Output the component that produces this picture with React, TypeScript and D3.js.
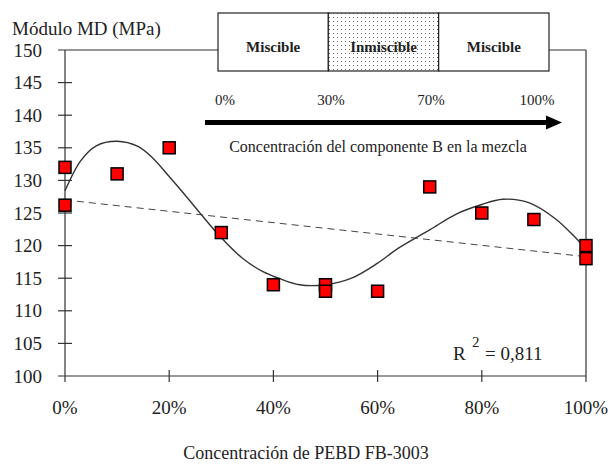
import React from "react";
import * as d3 from "d3";

const pointX = [0, 0, 0.1, 0.2, 0.3, 0.4, 0.5, 0.5, 0.6, 0.7, 0.8, 0.9, 1, 1];
const pointY = [132, 126.2, 131, 135, 122, 114, 114, 113, 113, 129, 125, 124, 120, 118];

const curveX = [0, 0.03, 0.06, 0.1, 0.14, 0.17, 0.2, 0.23, 0.26, 0.3, 0.34, 0.38, 0.41, 0.45, 0.5, 0.55, 0.6, 0.64, 0.7, 0.75, 0.8, 0.84, 0.89, 0.94, 0.98, 1];
const curveY = [128.4, 133, 135.3, 136, 135.2, 133.3, 130.6, 127.8, 124.9, 121.2, 118.1, 116, 115, 114, 114, 115, 117.3, 119.6, 122.4, 124.8, 126.3, 127.1, 126.6, 124.2, 121.2, 119.5];

const trendX = [0, 1];
const trendY = [127, 118.3];

const yTicks = [100, 105, 110, 115, 120, 125, 130, 135, 140, 145, 150];
const xTicks = [0, 0.2, 0.4, 0.6, 0.8, 1];
const xTickLabels = ["0%", "20%", "40%", "60%", "80%", "100%"];

const boxLabels = ["Miscible", "Inmiscible", "Miscible"];
const boxBounds = [0, 1 / 3, 2 / 3, 1];
const topPctLabels = ["0%", "30%", "70%", "100%"];

const FONT = "'Liberation Serif', 'Times New Roman', serif";

export default function App() {
  const W = 608, H = 464;
  const x = d3.scaleLinear().domain([0, 1]).range([65, 586]);
  const y = d3.scaleLinear().domain([100, 150]).range([376, 50]);
  const axisColor = "#333";

  const curvePts: [number, number][] = curveX.map((v, i) => [x(v), y(curveY[i])]);
  const curvePath = d3.line().curve(d3.curveCatmullRom.alpha(0.5))(curvePts) || "";
  const trendPath = d3.line()(trendX.map((v, i) => [x(v), y(trendY[i])] as [number, number])) || "";

  // inset box
  const bx = d3.scaleLinear().domain([0, 1]).range([218, 549]);
  const boxTop = 13, boxBot = 71;
  const pctScale = d3.scaleLinear().domain([0, 1]).range([225, 537]);
  const pctPos = [0, 0.34, 0.66, 1];

  return (
    <svg width={W} height={H} style={{ display: "block", position: "absolute", left: 0, top: 0 }} fontFamily={FONT}>
      <defs>
        <pattern id="dots" width="4" height="4" patternUnits="userSpaceOnUse">
          <rect width="4" height="4" fill="#fff" />
          <rect x="1" y="1" width="1" height="1" fill="#666" />
        </pattern>
      </defs>
      <rect width={W} height={H} fill="#fff" />

      {/* y title */}
      <text x={12} y={35} fontSize={19} fill="#222">Módulo MD (MPa)</text>

      {/* frame */}
      <line x1={58} x2={bx(0)} y1={y(150)} y2={y(150)} stroke={axisColor} strokeWidth={1.2} />
      <line x1={bx(1)} x2={x(1)} y1={y(150)} y2={y(150)} stroke={axisColor} strokeWidth={1.2} />
      <line x1={x(1)} x2={x(1)} y1={y(150)} y2={y(100)} stroke={axisColor} strokeWidth={1.2} />
      <line x1={x(0)} x2={x(0)} y1={y(150)} y2={y(100)} stroke={axisColor} strokeWidth={1.2} />
      <line x1={58} x2={x(1)} y1={y(100)} y2={y(100)} stroke={axisColor} strokeWidth={1.2} />

      {/* y ticks */}
      {yTicks.map((t) => (
        <g key={"y" + t}>
          {t !== 150 && t !== 100 && (
            <line x1={58} x2={72} y1={y(t)} y2={y(t)} stroke={axisColor} strokeWidth={1.2} />
          )}
          <text x={42} y={y(t)} dy="0.35em" textAnchor="end" fontSize={19} fill="#222">{t}</text>
        </g>
      ))}

      {/* x ticks */}
      {xTicks.map((t, i) => (
        <g key={"x" + t}>
          <line x1={x(t)} x2={x(t)} y1={t === 0 || t === 1 ? y(100) : y(100) - 6} y2={y(100) + 6} stroke={axisColor} strokeWidth={1.2} />
          <text x={x(t)} y={414} textAnchor="middle" fontSize={19} fill="#222">{xTickLabels[i]}</text>
        </g>
      ))}

      <text x={306} y={459} textAnchor="middle" fontSize={18} fill="#222">Concentración de PEBD FB-3003</text>

      {/* trend + curve */}
      <path d={trendPath} fill="none" stroke="#444" strokeWidth={1} strokeDasharray="7,5" />
      <path d={curvePath} fill="none" stroke="#333" strokeWidth={1.4} />

      {/* points */}
      {pointX.map((v, i) => (
        <rect key={"p" + i} x={x(v) - 6} y={y(pointY[i]) - 6} width={12} height={12} fill="#ff0000" stroke="#000" strokeWidth={1.5} />
      ))}

      {/* inset box */}
      {boxLabels.map((lab, i) => (
        <g key={"b" + i}>
          <rect x={bx(boxBounds[i])} y={boxTop} width={bx(boxBounds[i + 1]) - bx(boxBounds[i])} height={boxBot - boxTop}
            fill={i === 1 ? "url(#dots)" : "#fff"} stroke="#222" strokeWidth={1.2} />
          <text x={(bx(boxBounds[i]) + bx(boxBounds[i + 1])) / 2} y={52} textAnchor="middle" fontSize={15} fontWeight="bold" fill="#222">{lab}</text>
        </g>
      ))}

      {topPctLabels.map((lab, i) => (
        <text key={"tp" + i} x={pctScale(pctPos[i])} y={105} textAnchor="middle" fontSize={15} fill="#222">{lab}</text>
      ))}

      {/* arrow */}
      <line x1={205} x2={549} y1={122.5} y2={122.5} stroke="#000" strokeWidth={5} />
      <path d={`M${546},${115.5} L${562},${122.5} L${546},${129.5} Z`} fill="#000" />

      <text x={378} y={152} textAnchor="middle" fontSize={16} fill="#222">Concentración del componente B en la mezcla</text>

      {/* R² */}
      <text x={453} y={360} fontSize={19} fill="#222">R</text>
      <text x={472} y={347} fontSize={15} fill="#222">2</text>
      <text x={485} y={360} fontSize={19} fill="#222">= 0,811</text>
    </svg>
  );
}
